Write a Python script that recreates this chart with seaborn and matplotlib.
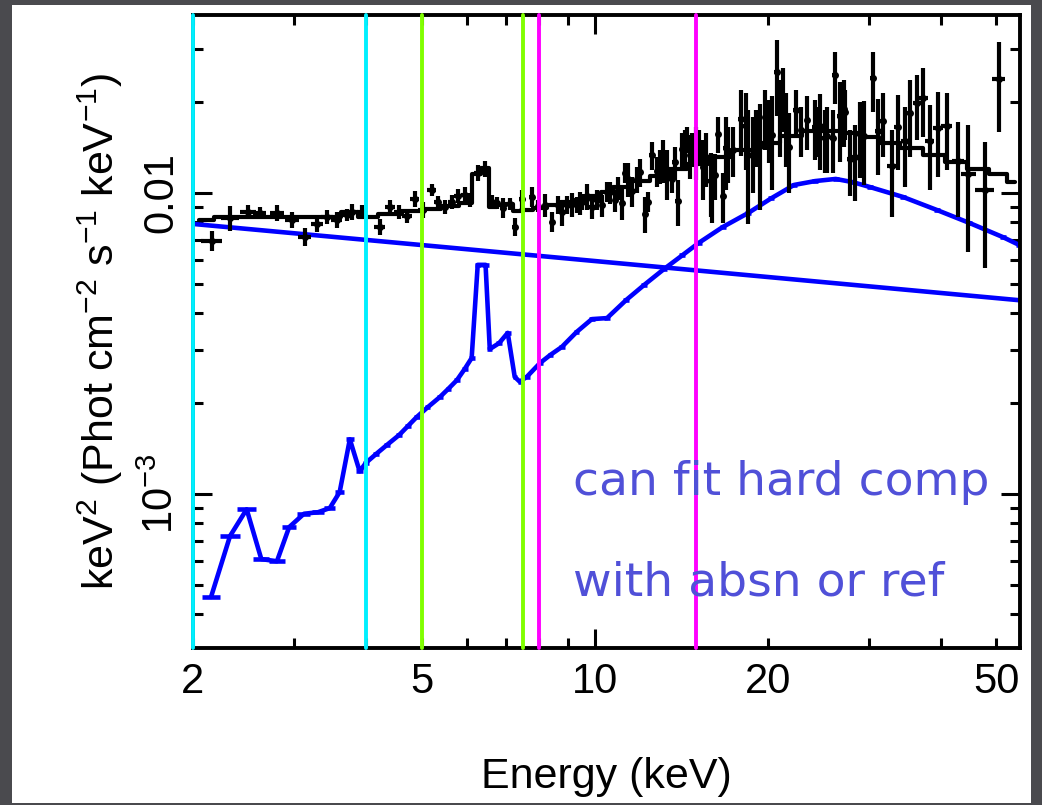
import numpy as np
import pandas as pd
import matplotlib
matplotlib.use("Agg")
import matplotlib.pyplot as plt
import seaborn as sns
from matplotlib.ticker import FixedLocator, FixedFormatter, NullFormatter
from matplotlib.patches import Rectangle

# ---------------- data (flux in units of 1e-3 keV^2 Phot cm^-2 s^-1 keV^-1) ----------------
data_energy = [2.158, 2.319, 2.493, 2.615, 2.799, 2.973, 3.132, 3.286, 3.420, 3.559, 3.705, 3.780, 3.934,
               4.229, 4.402, 4.570, 4.713, 4.865, 5.024, 5.208, 5.334, 5.486, 5.643, 5.780, 5.944, 6.064,
               6.259, 6.437, 6.623, 6.756, 6.919, 7.116, 7.261, 7.473, 7.780, 7.962, 8.189, 8.423, 8.628,
               8.767, 8.945, 9.127, 9.313, 9.503, 9.696, 9.893, 10.09, 10.30, 10.51, 10.64, 10.86, 11.17,
               11.44, 11.62, 12.00, 12.24, 12.39, 12.58, 12.84, 13.00, 13.36, 13.63, 13.96, 14.18, 14.51,
               14.75, 15.20, 15.62, 15.92, 16.23, 16.41, 16.75, 17.09, 17.43,
               18.00, 18.51, 18.89, 19.43, 19.83, 20.32, 20.74, 21.24, 21.81, 22.43, 22.89, 23.46, 24.14,
               24.63, 25.33, 26.16, 26.69, 27.23, 27.78, 28.34, 28.91, 29.49, 30.46, 31.08,
               31.70, 32.88, 33.70, 34.66, 35.36, 36.37, 37.26, 38.34, 39.59, 41.04, 42.87, 44.73, 47.72, 50.46,
               9.43, 10.99, 11.30, 11.86, 13.16, 13.80, 14.37, 14.66, 15.02, 15.44, 16.01, 16.93,
               18.35, 19.10, 20.12, 21.03, 21.54, 24.29, 25.18, 26.00, 27.18]
data_halfwidth = [0.09, 0.085, 0.08, 0.07, 0.08, 0.08, 0.08, 0.08, 0.08, 0.08, 0.07, 0.07, 0.07,
                  0.09, 0.09, 0.09, 0.09, 0.09, 0.09, 0.09, 0.08, 0.08, 0.08, 0.08, 0.08, 0.06,
                  0.08, 0.08, 0.08, 0.07, 0.08, 0.08, 0.07, 0.08, 0.08, 0.06, 0.07, 0.07, 0.07,
                  0.09, 0.09, 0.09, 0.09, 0.10, 0.10, 0.10, 0.10, 0.10, 0.10, 0.06, 0.11, 0.12,
                  0.12, 0.08, 0.12, 0.12, 0.06, 0.12, 0.12, 0.08, 0.14, 0.13, 0.14, 0.10, 0.14,
                  0.12, 0.15, 0.16, 0.14, 0.14, 0.10, 0.16, 0.17, 0.17,
                  0.20, 0.20, 0.20, 0.20, 0.20, 0.22, 0.22, 0.24, 0.25, 0.25, 0.25, 0.26, 0.27,
                  0.27, 0.28, 0.30, 0.30, 0.30, 0.30, 0.30, 0.30, 0.32, 0.35, 0.35,
                  0.40, 0.60, 0.50, 0.50, 0.50, 0.60, 0.80, 0.70, 0.80, 0.90, 1.00, 1.30, 1.80, 1.30,
                  0.09, 0.11, 0.11, 0.12, 0.13, 0.14, 0.14, 0.14, 0.15, 0.15, 0.16, 0.17,
                  0.20, 0.20, 0.22, 0.23, 0.24, 0.27, 0.28, 0.29, 0.30]
data_flux = [6.93, 8.26, 8.65, 8.58, 8.58, 8.13, 7.14, 7.89, 8.32, 8.13, 8.45, 8.65, 8.65,
             7.71, 8.98, 8.65, 8.39, 9.55, 8.78, 10.23, 9.34, 8.98, 9.34, 9.77, 9.85, 9.48,
             11.65, 12.02, 9.34, 9.26, 8.92, 9.19, 7.71, 9.55, 9.70, 9.05, 9.12, 8.01, 9.12,
             8.62, 9.14, 9.16, 9.14, 9.35, 9.75, 8.95, 9.51, 9.09, 10.11, 10.04, 9.44, 9.26,
             11.14, 10.14, 11.72, 8.53, 9.36, 13.35, 11.82, 12.30, 11.69, 11.10, 9.41, 14.01, 15.07,
             14.01, 14.24, 13.15, 10.95, 11.48, 15.73, 9.80, 13.68, 13.93,
             17.63, 13.38, 13.94, 14.27, 17.94, 15.62, 25.13, 20.98, 14.22, 18.85, 16.24, 17.45, 16.62,
             16.63, 15.48, 24.58, 18.03, 18.50, 12.98, 13.12, 15.64, 15.42, 24.00, 16.00,
             17.33, 12.26, 16.54, 14.89, 18.46, 19.83, 20.69, 14.92, 16.48, 16.71, 12.77, 11.60, 10.20, 23.85,
             9.26, 10.39, 11.69, 11.10, 12.90, 12.64, 14.20, 13.34, 13.81, 12.24, 10.66, 14.06,
             16.70, 15.54, 16.48, 18.46, 16.85, 16.24, 15.26, 15.26, 18.98]
data_flux_err = [0.53, 0.76, 0.46, 0.39, 0.53, 0.50, 0.49, 0.48, 0.45, 0.50, 0.39, 0.53, 0.46,
                 0.47, 0.48, 0.46, 0.45, 0.58, 0.54, 0.47, 0.43, 0.48, 0.50, 0.52, 0.60, 0.51,
                 0.71, 0.74, 0.50, 0.43, 0.68, 0.42, 0.53, 0.66, 0.74, 0.42, 0.77, 0.61, 0.63,
                 0.86, 0.63, 0.84, 0.56, 0.57, 0.97, 0.75, 0.73, 0.77, 0.77, 0.85, 0.79, 1.13,
                 1.44, 1.16, 1.25, 1.17, 0.72, 1.43, 1.35, 1.60, 2.21, 1.10, 1.64, 1.81, 1.50,
                 1.81, 1.95, 2.68, 2.63, 2.00, 2.15, 1.85, 2.88, 2.63,
                 4.36, 5.49, 3.94, 5.49, 4.05, 5.39, 7.10, 5.03, 4.22, 3.14, 3.07, 3.55, 3.75,
                 4.70, 3.83, 4.82, 5.35, 3.50, 3.21, 3.71, 4.42, 4.79, 5.41, 4.52,
                 4.16, 3.94, 4.62, 4.42, 5.28, 4.83, 5.34, 4.69, 5.18, 4.79, 4.45, 5.23, 4.57, 7.90,
                 0.81, 0.91, 0.89, 1.10, 2.10, 1.59, 2.00, 2.20, 2.76, 2.76, 2.71, 3.83,
                 4.80, 3.34, 3.90, 5.28, 4.65, 3.07, 3.61, 3.61, 4.76]

model_energy = [2.05, 2.3, 2.6, 2.9, 3.2, 3.5, 3.75, 4.0, 4.4, 4.8, 5.2, 5.6, 6.0, 6.25, 6.45, 6.65,
                6.9, 7.1, 7.3, 7.6, 8.0, 8.5, 9.0, 9.5, 10.0, 10.5, 11.0, 12.0, 13.0, 14.0, 15.0,
                16.5, 18.0, 20.0, 22.0, 24.0, 26.0, 28.0, 30.0, 32.5, 35.5, 39.0, 42.5, 46.5, 50.5, 54.0]
model_flux = [8.1, 8.3, 8.35, 8.3, 8.3, 8.35, 8.65, 8.35, 8.5, 8.7, 8.85, 9.05, 9.25, 11.6, 12.1, 9.0,
              9.1, 9.2, 8.7, 8.75, 8.9, 9.1, 9.3, 9.5, 9.8, 10.1, 10.5, 10.95, 11.4, 12.0, 12.5,
              13.2, 13.9, 14.7, 15.5, 16.0, 16.1, 15.8, 15.3, 14.6, 14.1, 13.4, 12.7, 12.0, 11.6, 10.9]

powerlaw_energy = [2.0, 55.0]
powerlaw_flux = [7.89, 4.40]

hard_energy = [2.15, 2.32, 2.48, 2.63, 2.80, 2.94, 3.12, 3.30, 3.46, 3.60, 3.75, 3.90, 4.00,
               4.17, 4.35, 4.57, 4.73, 4.90, 5.12, 5.38, 5.57, 5.76, 5.94, 6.11, 6.26, 6.46, 6.57,
               6.82, 7.06, 7.26, 7.41, 7.62, 8.03, 8.38, 8.77, 9.30, 9.89, 10.51, 11.35, 12.2,
               13.21, 14.2, 15.17, 16.7, 18.51, 20.3, 22.24, 24.2, 26.28, 28.2, 30.1, 34.4, 39.4,
               44.9, 51.3, 54.8]
hard_flux = [0.455, 0.725, 0.89, 0.608, 0.598, 0.776, 0.86, 0.87, 0.898, 1.015, 1.52, 1.19, 1.27,
             1.36, 1.455, 1.571, 1.68, 1.80, 1.94, 2.10, 2.24, 2.39, 2.60, 2.83, 5.77, 5.77, 3.03,
             3.17, 3.43, 2.45, 2.36, 2.45, 2.72, 2.90, 3.08, 3.45, 3.81, 3.84, 4.41, 4.95,
             5.59, 6.20, 6.82, 7.70, 8.58, 9.60, 10.63, 10.95, 11.13, 10.85, 10.47, 9.70, 8.78,
             7.95, 7.14, 6.72]
hard_halfwidth = [0.08, 0.09, 0.09, 0.085, 0.09, 0.085, 0.08, 0.08, 0.08, 0.07, 0.06, 0.05, 0.05,
                  0.05, 0.05, 0.055, 0.055, 0.06, 0.06, 0.065, 0.065, 0.07, 0.07, 0.07, 0.08, 0.08, 0.06,
                  0.08, 0.08, 0.06, 0.06, 0.09, 0.09, 0.10, 0.10, 0.11, 0.12, 0.12, 0.13, 0.14,
                  0.15, 0.17, 0.18, 0.2, 0.22, 0.24, 0.26, 0.28, 0.3, 0.33, 0.36, 0.4, 0.47,
                  0.55, 0.6, 0.6]

marker_energies = [2.0, 4.0, 5.0, 7.5, 8.0, 15.0]
marker_colors = ["#00f0ff", "#00f0ff", "#80ff00", "#80ff00", "#ff00ff", "#ff00ff"]

x_major = [10]
x_major_labels = ["10"]
x_minor = [2, 3, 4, 5, 6, 7, 8, 9, 20, 30, 40, 50]
x_minor_labels = ["2", "", "", "5", "", "", "", "", "20", "", "", "50"]
y_major = [1e-3, 1e-2]
y_major_labels = ["10$^{-3}$", "0.01"]
y_minor = [4e-4, 5e-4, 6e-4, 7e-4, 8e-4, 9e-4, 2e-3, 3e-3, 4e-3, 5e-3, 6e-3, 7e-3, 8e-3, 9e-3, 2e-2, 3e-2]

note_lines = ["can fit hard comp", "with absn or ref"]

# ---------------- style ----------------
sns.set_theme(style="ticks")
plt.rcParams["font.family"] = ["Liberation Sans", "DejaVu Sans"]
plt.rcParams["mathtext.default"] = "regular"
plt.rcParams["text.color"] = "black"
plt.rcParams["axes.linewidth"] = 2.6

SCALE = 1e-3
df_data = pd.DataFrame({"E": data_energy, "dE": data_halfwidth,
                        "F": np.array(data_flux) * SCALE, "dF": np.array(data_flux_err) * SCALE})
df_model = pd.DataFrame({"E": model_energy, "F": np.array(model_flux) * SCALE})
df_pl = pd.DataFrame({"E": powerlaw_energy, "F": np.array(powerlaw_flux) * SCALE})
df_hard = pd.DataFrame({"E": hard_energy, "F": np.array(hard_flux) * SCALE, "dE": hard_halfwidth})

fig = plt.figure(figsize=(10.42, 8.05), dpi=100, facecolor="#4a4a4e")
bg = Rectangle((0.0115, 0.0025), 0.978, 0.991, transform=fig.transFigure,
               facecolor="white", edgecolor="none", zorder=-10)
fig.patches.append(bg)
ax = fig.add_axes([0.1852, 0.195, 0.7937, 0.7864])
ax.set_zorder(1)
ax.set_facecolor("white")
ax.set_xscale("log")
ax.set_yscale("log")

BLUE = "#0000ff"
# blue components
sns.lineplot(data=df_pl, x="E", y="F", ax=ax, color=BLUE, lw=3.3, estimator=None, sort=False)
sns.lineplot(data=df_hard, x="E", y="F", ax=ax, color=BLUE, lw=3.3, estimator=None, sort=False)
ax.errorbar(df_hard["E"], df_hard["F"], xerr=df_hard["dE"], fmt="none", ecolor=BLUE,
            elinewidth=3.3, capsize=0)

# black model
sns.lineplot(data=df_model, x="E", y="F", ax=ax, color="black", lw=3.0, estimator=None, sort=False,
             drawstyle="steps-mid")

# data with error bars
ax.errorbar(df_data["E"], df_data["F"], xerr=df_data["dE"], yerr=df_data["dF"], fmt="o", ms=4,
            color="black", ecolor="black", elinewidth=3.0, capsize=0)

# energy band markers
for e, c in zip(marker_energies, marker_colors):
    ax.axvline(e, color=c, lw=2.8, zorder=5, clip_on=False)

ax.set_xlim(2.0, 55.0)
ax.set_ylim(3.08e-4, 0.039)
ax.set_xlabel("")
ax.set_ylabel("")

ax.xaxis.set_major_locator(FixedLocator(x_major))
ax.xaxis.set_major_formatter(FixedFormatter(x_major_labels))
ax.xaxis.set_minor_locator(FixedLocator(x_minor))
ax.xaxis.set_minor_formatter(FixedFormatter(x_minor_labels))
ax.yaxis.set_major_locator(FixedLocator(y_major))
ax.yaxis.set_major_formatter(FixedFormatter(y_major_labels))
ax.yaxis.set_minor_locator(FixedLocator(y_minor))
ax.yaxis.set_minor_formatter(NullFormatter())

ax.tick_params(which="both", direction="in", top=True, right=True, width=2.2, color="black",
               labelsize=30, labelcolor="black")
ax.tick_params(which="major", length=14)
ax.tick_params(which="minor", length=7)
ax.tick_params(axis="x", which="both", pad=10)
ax.tick_params(axis="y", which="both", pad=8, labelrotation=90)
for lab in ax.get_yticklabels():
    lab.set_va("center")
for s in ax.spines.values():
    s.set_color("black")
    s.set_linewidth(2.8)

fig.text(606.5 / 1042, 1 - 777 / 805, "Energy (keV)", ha="center", va="center", fontsize=31,
         color="black")
fig.text(100 / 1042, 1 - 331 / 805, "keV$^2$ (Phot cm$^{-2}$ s$^{-1}$ keV$^{-1}$)", rotation=90,
         ha="center", va="center", fontsize=31, color="black")

fig.text(573 / 1042, 1 - 495 / 805, note_lines[0], ha="left", va="baseline", fontsize=34,
         color="#5050d8", family="DejaVu Sans")
fig.text(573 / 1042, 1 - 595 / 805, note_lines[1], ha="left", va="baseline", fontsize=34,
         color="#5050d8", family="DejaVu Sans")

fig.savefig("out.png", dpi=100, facecolor=fig.get_facecolor())
